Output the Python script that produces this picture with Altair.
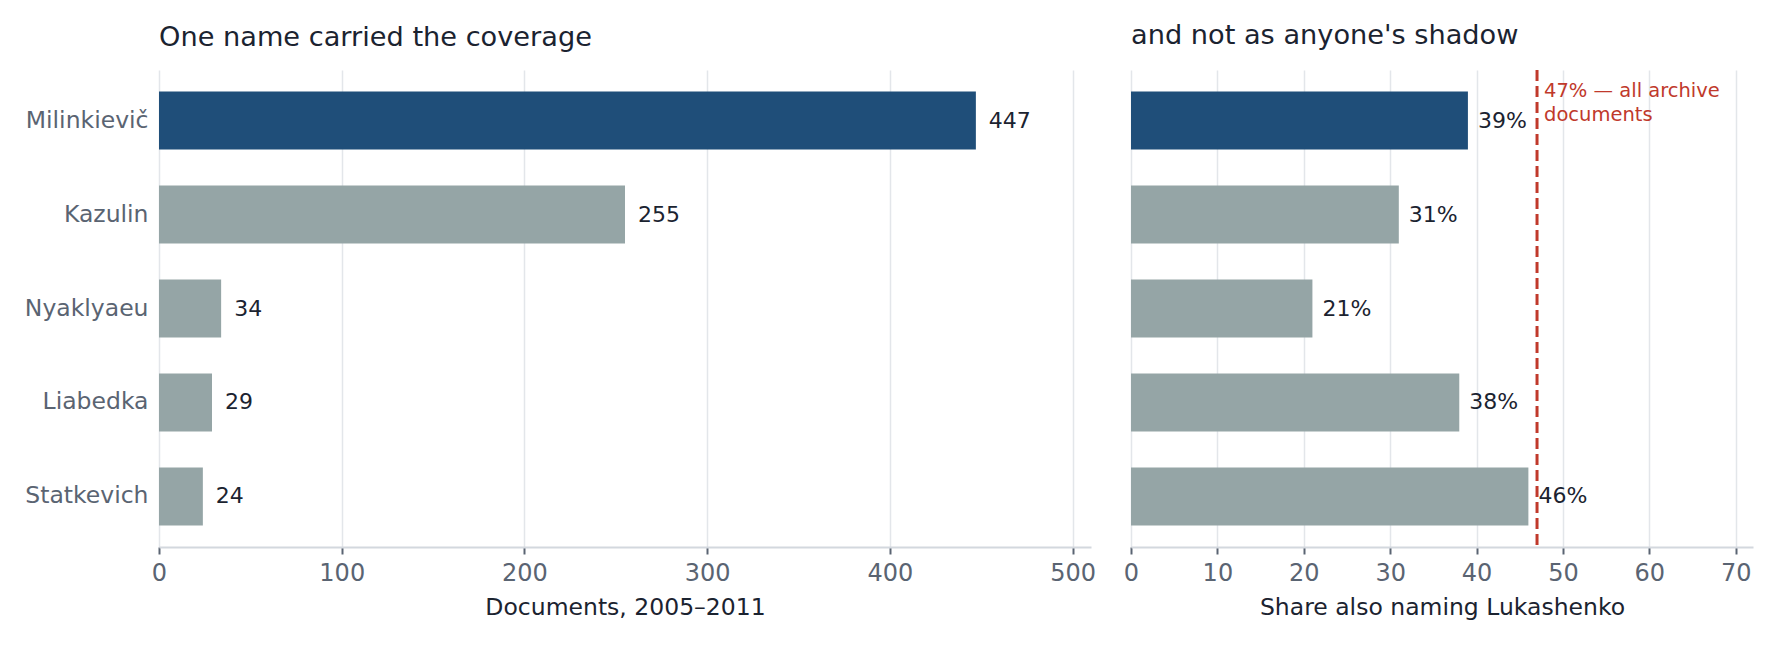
import altair as alt
import pandas as pd

# ---- data ----
names = ["Milinkievič", "Kazulin", "Nyaklyaeu", "Liabedka", "Statkevich"]
documents = [447, 255, 34, 29, 24]
share_lukashenko = [39, 31, 21, 38, 46]
archive_share = 47
highlight = "Milinkievič"
left_ticks = [0, 100, 200, 300, 400, 500]
right_ticks = [0, 10, 20, 30, 40, 50, 60, 70]

df = pd.DataFrame({"name": names, "docs": documents, "share": share_lukashenko})
df["docs_label"] = df["docs"].astype(str)
df["share_label"] = df["share"].astype(str) + "%"
ref = pd.DataFrame({"v": [archive_share],
                    "note": [[f"{archive_share}% — all archive", "documents"]]})

BLUE = "#1f4e79"
GRAY = "#95a5a6"
RED = "#c0392b"
DARK = "#1b2330"
MUTED = "#5a6472"
GRID = "#e3e6ea"
DOMAIN = "#d3d8de"
FONT = "DejaVu Sans"

color = alt.condition(alt.datum.name == highlight, alt.value(BLUE), alt.value(GRAY))
yscale = alt.Scale(paddingInner=0.383, paddingOuter=0.229)


def xaxis(title, values):
    return alt.Axis(title=title, values=values, grid=True, gridColor=GRID, gridWidth=1.5,
                    domain=True, domainColor=DOMAIN, domainWidth=2,
                    ticks=True, tickColor=MUTED, tickWidth=2, tickSize=7,
                    labelFontSize=24, labelColor=MUTED, labelPadding=7, labelFlush=False,
                    titleFontSize=23.5, titleColor=DARK, titleFontWeight="normal",
                    titlePadding=10)


def panel_title(text):
    return alt.TitleParams(text, anchor="start", frame="group", fontSize=27.2,
                           fontWeight="normal", color=DARK, offset=18)


base = alt.Chart(df)

# left panel
yl = alt.Y("name:N", sort=names, scale=yscale,
           axis=alt.Axis(title=None, ticks=False, domain=False, grid=False,
                         labelFontSize=23.5, labelColor=MUTED, labelPadding=11))
xl = alt.X("docs:Q", scale=alt.Scale(domain=[0, 510], nice=False),
           axis=xaxis("Documents, 2005–2011", left_ticks))
left = (
    base.mark_bar().encode(x=xl, y=yl, color=color)
    + base.mark_text(align="left", baseline="middle", dx=13, fontSize=22, color=DARK)
    .encode(x="docs:Q", y=alt.Y("name:N", sort=names), text="docs_label:N")
).properties(width=932, height=477, title=panel_title("One name carried the coverage"))

# right panel
yr = alt.Y("name:N", sort=names, scale=yscale,
           axis=alt.Axis(title=None, labels=False, ticks=False, domain=False, grid=False))
xr = alt.X("share:Q", scale=alt.Scale(domain=[0, 72], nice=False),
           axis=xaxis("Share also naming Lukashenko", right_ticks))
rule = alt.Chart(ref).mark_rule(color=RED, strokeDash=[11, 5], strokeWidth=3).encode(x="v:Q")
note = alt.Chart(ref).mark_text(align="left", baseline="top", dx=7, fontSize=19.5,
                                color=RED, lineHeight=23.5).encode(
    x="v:Q", y=alt.value(12), text="note")
right = (
    base.mark_bar().encode(x=xr, y=yr, color=color)
    + base.mark_text(align="left", baseline="middle", dx=10, fontSize=22, color=DARK)
    .encode(x="share:Q", y=alt.Y("name:N", sort=names), text="share_label:N")
    + rule + note
).properties(width=622, height=477, title=panel_title("and not as anyone's shadow"))

chart = (
    alt.hconcat(left, right, spacing=27)
    .resolve_scale(x="independent")
    .properties(padding={"left": 16, "top": 14, "right": 5, "bottom": 5})
    .configure(font=FONT)
    .configure_view(stroke=None)
)

chart.save("out.html", embed_options={"renderer": "svg", "actions": False})
